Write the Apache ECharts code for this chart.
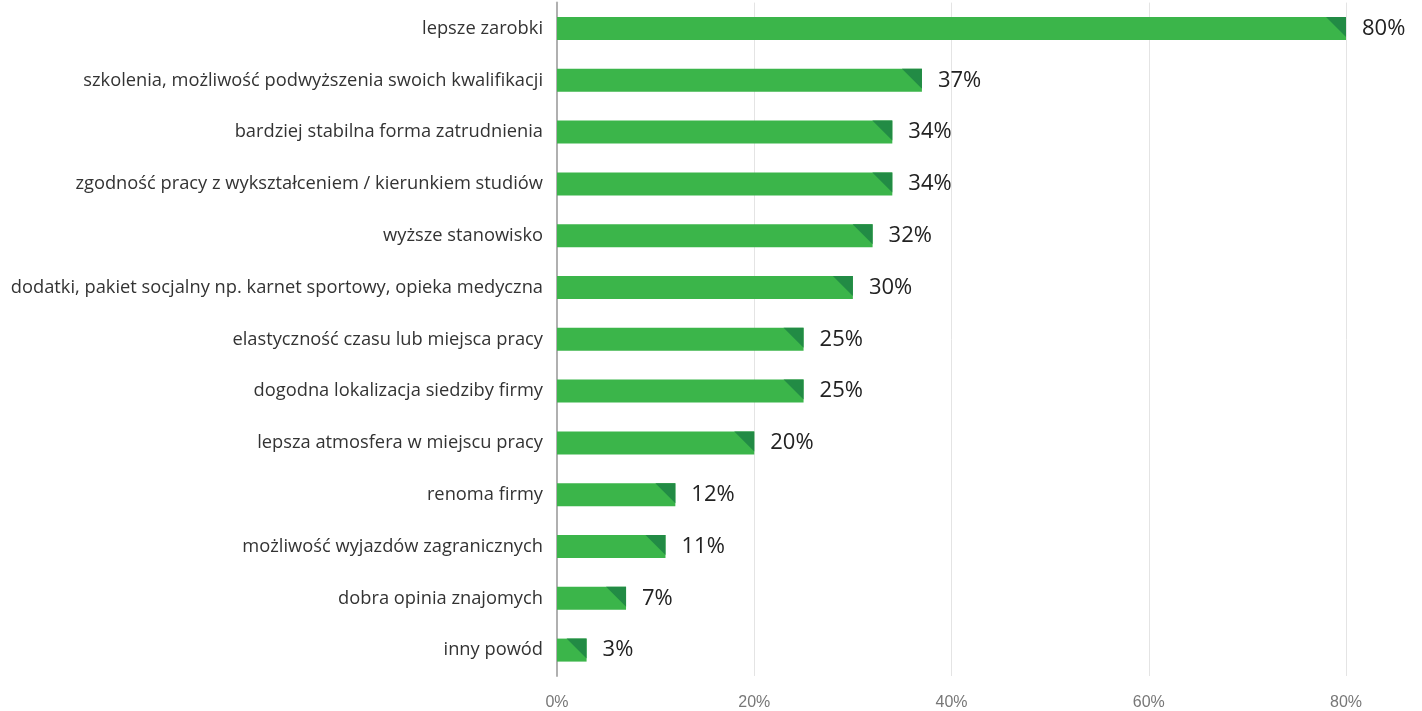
<!DOCTYPE html>
<html>
<head>
<meta charset="utf-8">
<script src="https://cdn.jsdelivr.net/npm/echarts@6/dist/echarts.min.js"></script>
<style>
html,body{margin:0;padding:0;background:#fff;}
#chart{width:1422px;height:711px;}
</style>
</head>
<body>
<div id="chart"></div>
<script>
// Reasons for changing jobs, share of respondents (%)
const categories = [
  'lepsze zarobki',
  'szkolenia, możliwość podwyższenia swoich kwalifikacji',
  'bardziej stabilna forma zatrudnienia',
  'zgodność pracy z wykształceniem / kierunkiem studiów',
  'wyższe stanowisko',
  'dodatki, pakiet socjalny np. karnet sportowy, opieka medyczna',
  'elastyczność czasu lub miejsca pracy',
  'dogodna lokalizacja siedziby firmy',
  'lepsza atmosfera w miejscu pracy',
  'renoma firmy',
  'możliwość wyjazdów zagranicznych',
  'dobra opinia znajomych',
  'inny powód'
];
const values = [80, 37, 34, 34, 32, 30, 25, 25, 20, 12, 11, 7, 3];
const xTicks = [0, 20, 40, 60, 80];

const BAR_H = 23;
const chart = echarts.init(document.getElementById('chart'));

chart.setOption({
  animation: false,
  grid: { left: 557, right: 76, top: 2.6, bottom: 35, containLabel: false },
  xAxis: {
    type: 'value',
    min: xTicks[0],
    max: xTicks[xTicks.length - 1],
    interval: 20,
    axisLine: { show: false },
    axisTick: { show: false },
    splitLine: { show: true, lineStyle: { color: '#e4e4e4', width: 1 } },
    axisLabel: {
      formatter: v => v + '%',
      color: '#777777',
      fontFamily: 'Liberation Sans, Arial, sans-serif',
      fontSize: 16,
      margin: 19
    }
  },
  yAxis: {
    type: 'category',
    inverse: true,
    data: categories,
    axisLine: { show: true, lineStyle: { color: '#b0b0b0', width: 2 } },
    axisTick: { show: false },
    axisLabel: {
      color: '#333333',
      fontFamily: 'Open Sans, Noto Sans, sans-serif',
      fontSize: 18.3,
      margin: 14
    }
  },
  series: [
    {
      type: 'bar',
      data: values,
      barWidth: BAR_H,
      itemStyle: { color: '#3bb54a' },
      label: {
        show: true,
        position: 'right',
        distance: 16,
        formatter: p => p.value + '%',
        color: '#222222',
        fontFamily: 'Open Sans, Noto Sans, sans-serif',
        fontSize: 22
      },
      z: 2
    },
    {
      // dark corner accent at the end of each bar
      type: 'custom',
      data: values.map((v, i) => [v, i]),
      encode: { x: 0, y: 1 },
      z: 3,
      renderItem: function (params, api) {
        const p = api.coord([api.value(0), api.value(1)]);
        const top = p[1] - BAR_H / 2;
        const w = 20;
        return {
          type: 'polygon',
          shape: { points: [[p[0] - w, top], [p[0], top], [p[0], top + w]] },
          style: { fill: '#228b45' }
        };
      }
    }
  ]
});
</script>
</body>
</html>
